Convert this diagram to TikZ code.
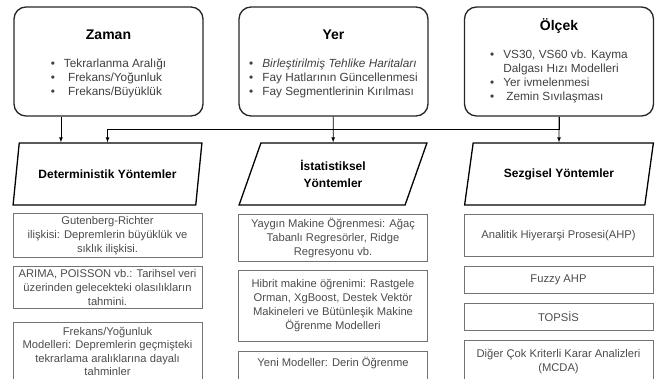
\documentclass[tikz,border=0pt]{standalone}
\usepackage{fontspec}
\setmainfont{Liberation Sans}
\usetikzlibrary{shapes.geometric,calc}

\newcommand{\boxtitle}[1]{{\color{black}\fontsize{14}{17}\selectfont\bfseries #1}}

\begin{document}
\begin{tikzpicture}[>=latex, x=1pt, y=-1pt]
        \tikzset{
            topbox/.style={draw=black!85, line width=1.3pt, rounded corners=12pt, minimum width=189pt, minimum height=109pt, align=center, text=black!75, inner sep=2pt, font=\fontsize{11.8}{14}\selectfont},
            method/.style={trapezium, trapezium left angle=72, trapezium right angle=108, trapezium stretches, draw, line width=1.3pt, minimum width=189pt, minimum height=62pt, align=center, font=\fontsize{12}{16.5}\selectfont\bfseries},
            item/.style={draw=black!55, line width=0.9pt, minimum width=189pt, anchor=north, align=center, inner xsep=2pt, inner ysep=1.5pt, text=black!70, font=\fontsize{11.2}{14}\selectfont},
            arrow/.style={->, line width=0.7pt}
        }
        \useasboundingbox (0,0) rectangle (659,378);

        \node[topbox] (zaman) at (108.5,61.5) {\rule{0pt}{16pt}\boxtitle{Zaman}\\[17pt]
            \begin{tabular}{@{}c@{\hspace{9pt}}c@{}}
                \textbullet & Tekrarlanma Aralığı\\
                \textbullet & Frekans/Yoğunluk\\
                \textbullet & Frekans/Büyüklük
            \end{tabular}};
        \node[topbox] (yer) at (333.5,61.5) {\rule{0pt}{16pt}\boxtitle{Yer}\\[17pt]
            \begin{tabular}{@{}c@{\hspace{9pt}}l@{}}
                \textbullet & \textit{Birleştirilmiş Tehlike Haritaları}\\
                \textbullet & Fay Hatlarının Güncellenmesi\\
                \textbullet & Fay Segmentlerinin Kırılması
            \end{tabular}};
        \node[topbox] (olcek) at (559,61.5) {\rule{0pt}{12pt}\boxtitle{Ölçek}\\[14pt]
            \begin{tabular}{@{}c@{\hspace{9pt}}l@{}}
                \textbullet & VS30, VS60 vb. Kayma\\
                            & Dalgası Hızı Modelleri\\
                \textbullet & Yer ivmelenmesi\\
                \textbullet & \hspace{3pt}Zemin Sıvılaşması
            \end{tabular}};

        \node[method] (det) at (107.5,174) {Deterministik Yöntemler};
        \node[method] (istat) at (333,174) {İstatistiksel\\Yöntemler};
        \node[method] (sezgi) at (559,174) {Sezgisel Yöntemler};

        \coordinate (zdown) at ($(zaman.south west)!.25!(zaman.south east)$);
        \draw[arrow] (zdown) -- (zdown |- det.north);
        \draw[arrow] (yer) -- (istat);
        \draw[arrow] (olcek) -- (sezgi);
        \draw[arrow] (olcek.south) -- ++(0,13) -| (det);

        % deterministik
        \node[item, minimum height=44pt] (gr) at (107.5,213) {Gutenberg-Richter\\ilişkisi: Depremlerin büyüklük ve\\sıklık ilişkisi.};
        \node[item, minimum height=42pt] (arima) at (107.5,266) {ARIMA, POISSON vb.: Tarihsel veri\\üzerinden gelecekteki olasılıkların\\tahmini.};
        \node[item, minimum height=58pt, font=\fontsize{11.2}{13.5}\selectfont] (freq) at (107.5,322) {Frekans/Yoğunluk\\Modelleri: Depremlerin geçmişteki\\tekrarlama aralıklarına dayalı\\tahminler};

        % istatistiksel
        \node[item, minimum height=47pt] (ml) at (333,214) {Yaygın Makine Öğrenmesi: Ağaç\\Tabanlı Regresörler, Ridge\\Regresyonu vb.};
        \node[item, minimum height=71pt] (hybrid) at (333,270) {Hibrit makine öğrenimi: Rastgele\\Orman, XgBoost, Destek Vektör\\Makineleri ve Bütünleşik Makine\\Öğrenme Modelleri};
        \node[item, text height=14pt, text depth=16pt] (deep) at (333,351) {Yeni Modeller: Derin Öğrenme};

        % sezgisel
        \node[item, minimum height=42pt] (ahp) at (558.5,214) {Analitik Hiyerarşi Prosesi(AHP)};
        \node[item, minimum height=27pt] (fahp) at (558.5,266) {Fuzzy AHP};
        \node[item, minimum height=27pt] (topsis) at (558.5,303) {TOPSİS};
        \node[item, minimum height=42pt] (mcda) at (558.5,340) {Diğer Çok Kriterli Karar Analizleri\\(MCDA)};
    \end{tikzpicture}
\end{document}
